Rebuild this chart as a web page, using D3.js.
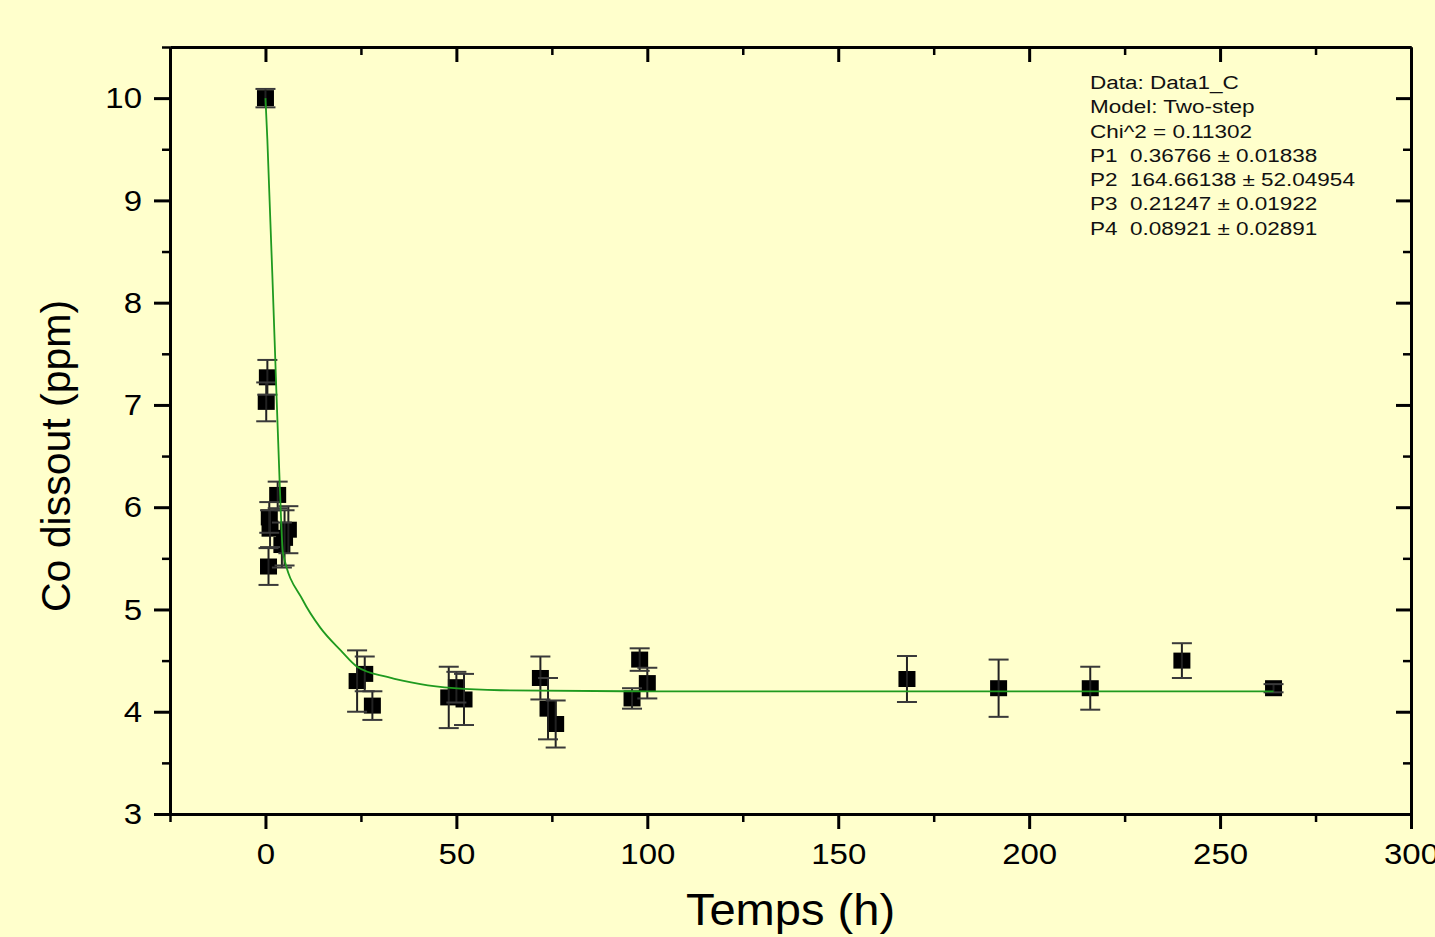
<!DOCTYPE html>
<html>
<head>
<meta charset="utf-8">
<script src="https://cdn.jsdelivr.net/npm/d3@7"></script>
<style>
  html, body { margin: 0; padding: 0; background: #ffffcc; }
  svg { display: block; font-family: "Liberation Sans", Arial, sans-serif; }
</style>
</head>
<body>
<div id="chart"></div>
<script>
// measured points (time in h, dissolved Co in ppm, error bar half-height)
const timeH  = [0, 0.2, 0.5, 0.8, 1, 1.2, 3.2, 4.3, 5, 6, 24, 26, 28, 48, 50, 52, 72, 74, 76, 96, 98, 100, 168, 192, 216, 240, 264];
const coPpm  = [10.0, 7.03, 7.27, 5.42, 5.9, 5.79, 6.12, 5.63, 5.70, 5.78, 4.30, 4.37, 4.06, 4.14, 4.24, 4.12, 4.33, 4.03, 3.88, 4.13, 4.51, 4.28, 4.32, 4.23, 4.23, 4.50, 4.23];
const errPpm = [0.09, 0.19, 0.17, 0.18, 0.15, 0.18, 0.13, 0.22, 0.27, 0.23, 0.30, 0.17, 0.14, 0.30, 0.15, 0.25, 0.21, 0.30, 0.23, 0.10, 0.11, 0.15, 0.225, 0.28, 0.21, 0.17, 0.04];

// fitted curve
const fitT  = [0, 0.5, 2.4, 3.7, 4.6, 9.8, 14.4, 19.7, 24, 31.9, 40.6, 49.4, 61.6, 100, 264];
const fitCo = [10.0, 9.59, 7.63, 6.26, 5.55, 5.09, 4.82, 4.60, 4.44, 4.34, 4.27, 4.23, 4.21, 4.20, 4.20];

const xTicks = [0, 50, 100, 150, 200, 250, 300];
const xMinor = [-25, 25, 75, 125, 175, 225, 275];
const yTicks = [3, 4, 5, 6, 7, 8, 9, 10];
const yMinor = [3.5, 4.5, 5.5, 6.5, 7.5, 8.5, 9.5, 10.5];

const fitInfo = [
  "Data: Data1_C",
  "Model: Two-step",
  "Chi^2 = 0.11302",
  "P1  0.36766 \u00b1 0.01838",
  "P2  164.66138 \u00b1 52.04954",
  "P3  0.21247 \u00b1 0.01922",
  "P4  0.08921 \u00b1 0.02891"
];

const W = 1435, H = 937;
const svg = d3.select("#chart").append("svg")
    .attr("width", W)
    .attr("height", H);

svg.append("rect").attr("width", W).attr("height", H).attr("fill", "#ffffcc");

const x = d3.scaleLinear().domain([-25, 300]).range([170, 1411]);
const y = d3.scaleLinear().domain([3, 10.5]).range([814, 47]);

const stretch = 1.1;

function styleAxis(g, w) {
    g.select(".domain").attr("stroke", "#000").attr("stroke-width", 3);
    g.selectAll(".tick line").attr("stroke", "#000").attr("stroke-width", w);
    g.selectAll(".tick text")
        .attr("fill", "#000")
        .style("font-size", "30px")
        .style("font-family", "'Liberation Sans', Arial, sans-serif");
}

// bottom
svg.append("g")
    .attr("transform", `translate(0,${y(3)})`)
    .call(d3.axisBottom(x).tickValues(xMinor).tickSize(8).tickSizeOuter(0).tickFormat(""))
    .call(g => styleAxis(g, 2.5));
svg.append("g")
    .attr("transform", `translate(0,${y(3)})`)
    .call(d3.axisBottom(x).tickValues(xTicks).tickSize(15).tickSizeOuter(0).tickPadding(14))
    .call(g => styleAxis(g, 3))
    .call(g => g.selectAll(".tick text").attr("transform", `scale(${stretch},1)`));

// top
svg.append("g")
    .attr("transform", `translate(0,${y(10.5)})`)
    .call(d3.axisTop(x).tickValues(xMinor.filter(d => d > -25)).tickSize(-8).tickSizeOuter(0).tickFormat(""))
    .call(g => styleAxis(g, 2.5));
svg.append("g")
    .attr("transform", `translate(0,${y(10.5)})`)
    .call(d3.axisTop(x).tickValues(xTicks.filter(d => d < 300)).tickSize(-15).tickSizeOuter(0).tickFormat(""))
    .call(g => styleAxis(g, 3));

// left
svg.append("g")
    .attr("transform", `translate(${x(-25)},0)`)
    .call(d3.axisLeft(y).tickValues(yMinor).tickSize(8).tickSizeOuter(0).tickFormat(""))
    .call(g => styleAxis(g, 2.5));
svg.append("g")
    .attr("transform", `translate(${x(-25)},0)`)
    .call(d3.axisLeft(y).tickValues(yTicks).tickSize(16).tickSizeOuter(0).tickPadding(12))
    .call(g => styleAxis(g, 3))
    .call(g => g.selectAll(".tick text")
        .attr("x", -28 / stretch)
        .attr("transform", `scale(${stretch},1)`));

// right
svg.append("g")
    .attr("transform", `translate(${x(300)},0)`)
    .call(d3.axisRight(y).tickValues(yMinor.filter(d => d < 10.5)).tickSize(-8).tickSizeOuter(0).tickFormat(""))
    .call(g => styleAxis(g, 2.5));
svg.append("g")
    .attr("transform", `translate(${x(300)},0)`)
    .call(d3.axisRight(y).tickValues(yTicks.filter(d => d > 3)).tickSize(-15).tickSizeOuter(0).tickFormat(""))
    .call(g => styleAxis(g, 3));

// axis titles
svg.append("text")
    .attr("transform", `translate(${(x(-25) + x(300)) / 2},925) scale(1.07,1)`)
    .attr("text-anchor", "middle")
    .style("font-size", "44px")
    .text("Temps (h)");

svg.append("text")
    .attr("transform", "translate(70,456) rotate(-90)")
    .attr("text-anchor", "middle")
    .style("font-size", "41px")
    .text("Co dissout (ppm)");

const pts = timeH.map((t, i) => ({ t, v: coPpm[i], e: errPpm[i] }));

// squares
const sq = 17;
svg.append("g")
    .selectAll("rect")
    .data(pts)
    .join("rect")
    .attr("x", d => x(d.t) - sq / 2)
    .attr("y", d => y(d.v) - 8)
    .attr("width", sq)
    .attr("height", 16)
    .attr("fill", "#000");

// error bars
const eb = svg.append("g").attr("stroke", "#222");
eb.selectAll("line.v")
    .data(pts)
    .join("line")
    .attr("class", "v")
    .attr("x1", d => x(d.t)).attr("x2", d => x(d.t))
    .attr("y1", d => y(d.v + d.e)).attr("y2", d => y(d.v - d.e))
    .attr("stroke-width", 2);
eb.selectAll("line.top")
    .data(pts)
    .join("line")
    .attr("class", "top")
    .attr("x1", d => x(d.t) - 10).attr("x2", d => x(d.t) + 10)
    .attr("y1", d => y(d.v + d.e)).attr("y2", d => y(d.v + d.e))
    .attr("stroke", "#3a3a3a")
    .attr("stroke-width", 2);
eb.selectAll("line.bot")
    .data(pts)
    .join("line")
    .attr("class", "bot")
    .attr("x1", d => x(d.t) - 10).attr("x2", d => x(d.t) + 10)
    .attr("y1", d => y(d.v - d.e)).attr("y2", d => y(d.v - d.e))
    .attr("stroke", "#3a3a3a")
    .attr("stroke-width", 2);

// fit line
const fit = fitT.map((t, i) => [t, fitCo[i]]);
svg.append("path")
    .datum(fit)
    .attr("fill", "none")
    .attr("stroke", "#1f9a1f")
    .attr("stroke-width", 1.8)
    .attr("d", d3.line().x(d => x(d[0])).y(d => y(d[1])).curve(d3.curveMonotoneX));

// fit report
const info = svg.append("g")
    .attr("transform", "translate(1090,89) scale(1.25,1)");
info.selectAll("text")
    .data(fitInfo)
    .join("text")
    .attr("x", 0)
    .attr("y", (d, i) => i * 24.3)
    .style("font-size", "18px")
    .attr("fill", "#111")
    .attr("xml:space", "preserve")
    .style("white-space", "pre")
    .text(d => d);
</script>
</body>
</html>
